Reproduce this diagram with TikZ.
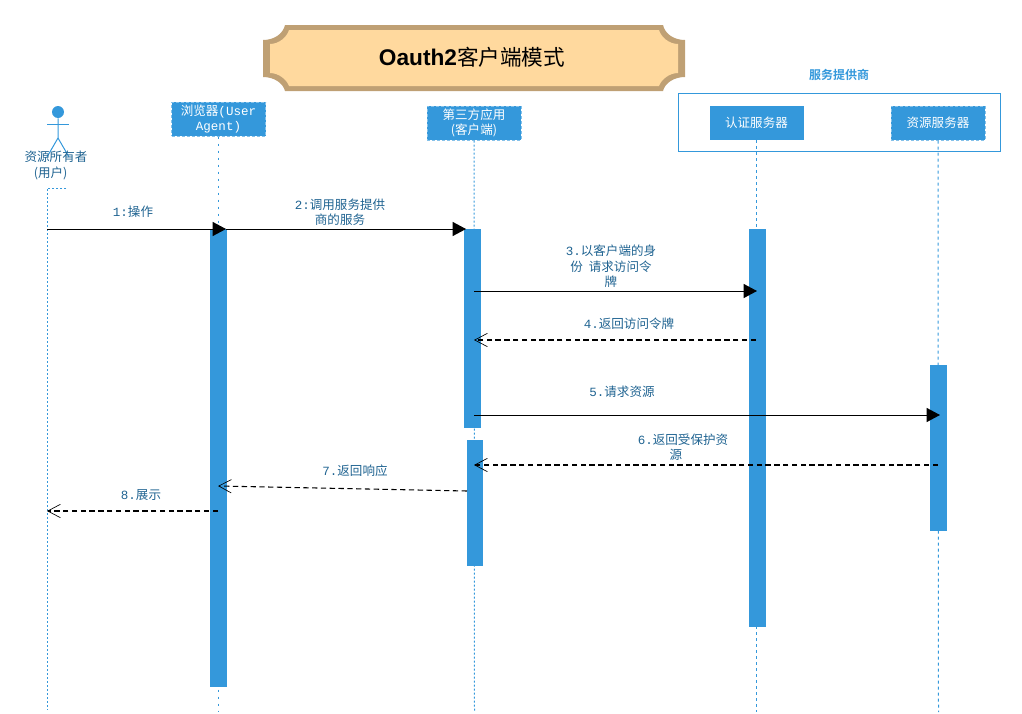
\documentclass[tikz,border=0pt]{standalone}
\usepackage{fontspec}
\usetikzlibrary{arrows.meta}
\setmainfont{Liberation Sans}
\newfontfamily\cjk{Noto Sans CJK SC}
\newfontfamily\cjkb{Noto Sans CJK SC Bold}
\newfontfamily\mon{Liberation Mono}
\definecolor{cblue}{HTML}{3498DB}
\definecolor{clight}{HTML}{85C1E9}
\definecolor{ctext}{HTML}{1F6391}
\definecolor{plaqueborder}{HTML}{BFA074}
\definecolor{plaquefill}{HTML}{FFD99E}
\tikzset{
  x=0.75pt,y=-0.75pt,
  head/.style={fill=cblue,text=white,inner sep=0pt,minimum width=70.5pt,minimum height=25.5pt,align=center,font=\cjk\fontsize{9.4}{11.4}\selectfont},
  headdash/.style={head,draw=clight,line width=0.75pt,dash pattern=on 2.25pt off 1.5pt},
  bar/.style={fill=cblue,inner sep=0pt,minimum width=12.6pt},
  lifedot/.style={draw=cblue,line width=0.75pt,dash pattern=on 1.5pt off 1.5pt},
  lifesparse/.style={draw=cblue,line width=0.75pt,dash pattern=on 1.5pt off 3.75pt},
  lifedash/.style={draw=cblue,line width=0.75pt,dash pattern=on 2.25pt off 2.25pt},
  msg/.style={text=ctext,align=center,inner sep=0pt,font=\cjk\fontsize{9.4}{11.6}\selectfont},
  call/.style={draw=black,line width=0.75pt,-{Triangle[length=10pt,width=10.5pt]}},
  reply/.style={draw=black,line width=0.8pt,dash pattern=on 4pt off 2.6pt,-{Straight Barb[length=9.5pt,width=10pt,line width=0.5pt]}},
  actorline/.style={draw=cblue,line width=0.75pt},
}
\begin{document}
\begin{tikzpicture}
\useasboundingbox (0,0) rectangle (1022,714);
% title plaque
\fill[plaqueborder] (285,25) -- (663,25) .. controls (665,34) and (674,40) .. (685,40)
  -- (685,77) .. controls (674,77) and (665,83) .. (663,91) -- (285,91)
  .. controls (283,83) and (274,77) .. (263,77) -- (263,40) .. controls (274,40) and (283,34) .. (285,25) -- cycle;
\fill[plaquefill] (289,30) -- (659,30) .. controls (661,37) and (669,44) .. (678,44)
  -- (678,73) .. controls (669,73) and (661,80) .. (659,86) -- (289,86)
  .. controls (287,80) and (279,73) .. (270,73) -- (270,44) .. controls (279,44) and (287,37) .. (289,30) -- cycle;
\node[inner sep=0pt] (title) at (472,57) {\fontsize{17}{20}\selectfont{\bfseries Oauth2}\cjk\fontsize{16.2}{20}\selectfont 客户端模式};
% service provider frame
\node[draw=cblue,line width=0.75pt,inner sep=0pt,minimum width=241.5pt,minimum height=43.5pt] (frame) at (839,122) {};
\node[inner sep=0pt,text=cblue] (frametitle) at (839,75) {\cjkb\fontsize{9}{11}\selectfont 服务提供商};
% actor
\node[circle,fill=cblue,inner sep=0pt,minimum size=9pt] (actorhead) at (58,112) {};
\coordinate (hip) at (58,138);
\coordinate (armL) at (47,124);
\coordinate (armR) at (69,124);
\coordinate (legL) at (47,157);
\coordinate (legR) at (69,157);
\draw[actorline] (actorhead) -- (hip) -- (legL);
\draw[actorline] (hip) -- (legR);
\draw[actorline] (armL) -- (armR);
\node[msg] (actorname) at (56,165.5) {资源所有者\\{\hspace*{-8pt}(用户)}};
% lifeline heads
\node[headdash] (browser) at (218.5,119) {\raisebox{-0.7pt}{浏览器{\mon (User}}\\\raisebox{-0.7pt}{\mon Agent)}};
\node[headdash] (client) at (474,123) {第三方应用\\(客户端)};
\node[head] (auth) at (756.5,123) {认证服务器};
\node[headdash] (resource) at (938,123) {资源服务器};
% lifelines
\coordinate (actortop) at (47,188);
\coordinate (actortopR) at (66,188);
\coordinate (actorfoot) at (47,710);
\coordinate (browserfoot) at (218.5,712);
\coordinate (clientfoot) at (474.5,712);
\coordinate (authfoot) at (756.5,712);
\coordinate (resourcefoot) at (938.5,712);
\draw[lifedot] (actortopR) -- (actortop) -- (actorfoot);
\draw[lifesparse] (browser.south) -- (browserfoot);
\draw[lifedot] (client.south) -- (clientfoot);
\draw[lifedash] (auth.south) -- (authfoot);
\draw[lifedash] (resource.south) -- (resourcefoot);
% activation bars
\node[bar,minimum height=343.5pt] (barB) at (218.3,458) {};
\node[bar,minimum height=149.25pt] (barC1) at (472.5,328.5) {};
\node[bar,minimum height=94.5pt] (barC2) at (475,503) {};
\node[bar,minimum height=298.5pt] (barA) at (757.5,428) {};
\node[bar,minimum height=124.5pt] (barR) at (938.5,448) {};
% message ends
\coordinate (a1) at (47,229);
\coordinate (b1) at (226,229);
\coordinate (c1) at (466,229);
\coordinate (c3) at (474,291);
\coordinate (d3) at (757,291);
\coordinate (d4) at (756,340);
\coordinate (c4) at (474,340);
\coordinate (c5) at (474,415);
\coordinate (e5) at (940,415);
\coordinate (e6) at (938,465);
\coordinate (c6) at (474,465);
\coordinate (c7) at (467,491);
\coordinate (b7) at (218,486);
\coordinate (b8) at (218,511);
\coordinate (a8) at (47,511);
\draw[call] (a1) -- (b1);
\draw[call] (b1) -- (c1);
\draw[call] (c3) -- (d3);
\draw[reply] (d4) -- (c4);
\draw[call] (c5) -- (e5);
\draw[reply] (e6) -- (c6);
\draw[reply] (c7) -- (b7);
\draw[reply] (b8) -- (a8);
% message labels
\node[msg] (l1) at (133,212) {{\mon 1:}操作};
\node[msg] (l2) at (340,212) {{\mon 2:}调用服务提供\\商的服务};
\node[msg] (l3) at (611,266.5) {{\mon 3.}以客户端的身\\份\hspace{4.5pt}请求访问令\\牌};
\node[msg] (l4) at (629,324) {{\mon 4.}返回访问令牌};
\node[msg] (l5) at (622,392) {{\mon 5.}请求资源};
\node[msg] (l6) at (683,447) {{\mon 6.}返回受保护资\\{\hspace*{-10.5pt}源}};
\node[msg] (l7) at (355,471) {{\mon 7.}返回响应};
\node[msg] (l8) at (141,495) {{\mon 8.}展示};
\end{tikzpicture}
\end{document}
